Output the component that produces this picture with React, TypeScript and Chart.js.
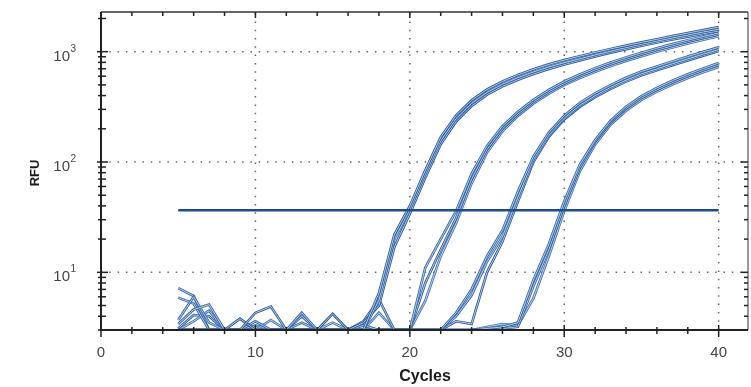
import { useEffect, useRef } from "react";
import { Chart, registerables } from "chart.js";

Chart.register(...registerables);

// ---- data ----
const cycles = [5, 6, 7, 8, 9, 10, 11, 12, 13, 14, 15, 16, 17, 18, 19, 20, 21, 22, 23, 24, 25, 26, 27, 28, 29, 30, 31, 32, 33, 34, 35, 36, 37, 38, 39, 40];

const a1 = [3, 3, 3, 3, 3, 4.3, 4.9, 3, 3, 3, 3, 3, 3, 6.5, 22, 40, 84, 168, 265, 362, 455, 538, 615, 692, 768, 840, 910, 985, 1060, 1135, 1215, 1295, 1385, 1475, 1570, 1670];
const a2 = [3.4, 4.6, 5.1, 3, 3, 3, 3, 3, 4.3, 3, 3, 3, 3, 5.6, 20, 37, 78, 156, 248, 340, 428, 508, 582, 655, 727, 795, 862, 935, 1010, 1090, 1170, 1250, 1330, 1420, 1510, 1600];
const a3 = [3, 3, 3, 3, 3.8, 3, 3, 3, 3, 3, 4.2, 3, 3.5, 5, 17, 34, 72, 145, 233, 322, 408, 485, 557, 628, 698, 765, 833, 905, 980, 1055, 1130, 1210, 1290, 1370, 1455, 1540];

const b1 = [3.7, 6.0, 3.5, 3, 3, 3.6, 3, 3, 4.0, 3, 3, 3, 3.3, 3, 3, 3, 11, 20, 36, 78, 140, 212, 286, 366, 450, 537, 622, 710, 798, 888, 980, 1075, 1172, 1272, 1375, 1480];
const b2 = [3, 3, 3, 3, 3, 3, 3, 3, 3, 3, 3, 3, 3.6, 5.7, 3, 3, 8, 16, 31, 70, 130, 200, 272, 350, 432, 515, 598, 682, 768, 855, 943, 1035, 1130, 1230, 1330, 1430];
const b3 = [3, 3, 3, 3, 3, 3, 3.7, 3, 3, 3, 3.5, 3, 3, 4.3, 3, 3, 5.5, 14, 28, 64, 122, 190, 262, 338, 417, 497, 577, 658, 741, 825, 910, 998, 1090, 1185, 1283, 1380];

const c1 = [5.9, 5.2, 3, 3, 3, 3, 3, 3, 3.5, 3, 3, 3, 3, 3, 3, 3, 3, 3, 4.3, 7, 14, 24, 54, 112, 185, 263, 343, 420, 498, 580, 662, 735, 817, 903, 997, 1095];
const c2 = [3, 3.6, 4.5, 3, 3, 3.3, 3, 3, 3, 3, 3, 3, 3, 3, 3, 3, 3, 3, 4.0, 6.2, 12.5, 21, 48, 105, 175, 250, 326, 400, 475, 552, 630, 700, 778, 860, 950, 1045];
const c3 = [3, 3, 3, 3, 3, 3, 3, 3, 3, 3, 3, 3, 3, 3, 3, 3, 3, 3, 3.6, 3.4, 10, 19, 44, 100, 169, 243, 316, 388, 461, 535, 611, 679, 755, 834, 921, 1015];

const d1 = [7.2, 6.1, 3, 3, 3, 3, 3, 3, 3, 3, 3, 3, 3, 3, 3, 3, 3, 3, 3, 3, 3.1, 3.2, 3.5, 8.5, 18, 44, 94, 158, 237, 317, 395, 470, 546, 624, 705, 790];
const d2 = [3.1, 4.1, 4.0, 3, 3, 3, 3, 3, 3, 3, 3, 3, 3, 3, 3, 3, 3, 3, 3, 3, 3, 3.1, 3.2, 7.5, 16, 40, 88, 152, 228, 305, 380, 452, 525, 600, 678, 758];
const d3 = [3, 3, 3, 3, 3, 3, 3, 3, 3, 3, 3, 3, 3, 3, 3, 3, 3, 3, 3, 3, 3.2, 3.4, 3.3, 5.8, 14, 36, 82, 144, 218, 292, 365, 434, 504, 576, 651, 728];

const thresholdCycles = [5, 40];
const thresholdValue = 36.5;

const xTickValues = [0, 10, 20, 30, 40];
const xTickLabels = ["0", "10", "20", "30", "40"];
const yTickValues = [10, 100, 1000];
const yTickBase = ["10", "10", "10"];
const yTickExp = ["1", "2", "3"];

const xTitle = "Cycles";
const yTitle = "RFU";

const series = [a1, a2, a3, b1, b2, b3, c1, c2, c3, d1, d2, d3];
const seriesColors = [
  "#2c5c9b", "#3a6aab", "#25559a",
  "#3566a7", "#2a5a98", "#4373b2",
  "#3064a4", "#3d6dad", "#2b5b9b",
  "#3567a7", "#2d5d9d", "#4272b0",
];
const innerColor = "rgba(214,228,244,0.9)";

const FONT = "'Liberation Sans', Arial, Helvetica, sans-serif";

const axesPlugin = {
  id: "qpcrAxes",
  beforeDatasetsDraw(chart: any) {
    const { ctx, chartArea: a, scales } = chart;
    const x = scales.x;
    const y = scales.y;
    ctx.save();
    ctx.strokeStyle = "#666";
    ctx.lineWidth = 1.5;
    ctx.lineCap = "butt";
    ctx.setLineDash([1.5, 6.8]);
    for (const v of xTickValues) {
      if (v === 0) continue;
      const px = x.getPixelForValue(v);
      ctx.beginPath();
      ctx.moveTo(px, a.bottom);
      ctx.lineTo(px, a.top);
      ctx.stroke();
    }
    for (const v of yTickValues) {
      const py = y.getPixelForValue(v);
      ctx.beginPath();
      ctx.moveTo(a.left, py);
      ctx.lineTo(a.right, py);
      ctx.stroke();
    }
    ctx.restore();
  },
  afterDatasetsDraw(chart: any) {
    const { ctx, chartArea: a, scales } = chart;
    const x = scales.x;
    const y = scales.y;
    ctx.save();
    ctx.setLineDash([]);
    // frame
    ctx.strokeStyle = "#555";
    ctx.lineWidth = 1.2;
    ctx.beginPath();
    ctx.moveTo(a.right, a.top);
    ctx.lineTo(a.right, a.bottom);
    ctx.stroke();
    ctx.strokeStyle = "#333";
    ctx.lineWidth = 1.5;
    ctx.beginPath();
    ctx.moveTo(a.left, a.top);
    ctx.lineTo(a.right, a.top);
    ctx.stroke();
    ctx.strokeStyle = "#222";
    ctx.lineWidth = 2;
    ctx.beginPath();
    ctx.moveTo(a.left, a.top);
    ctx.lineTo(a.left, a.bottom);
    ctx.lineTo(a.right, a.bottom);
    ctx.stroke();

    // x ticks (every 2 cycles)
    ctx.strokeStyle = "#222";
    ctx.lineWidth = 1.5;
    for (let c = 0; c <= x.max; c += 2) {
      const px = x.getPixelForValue(c);
      const major = c % 10 === 0;
      ctx.beginPath();
      ctx.moveTo(px, a.bottom - (major ? 5 : 3));
      ctx.lineTo(px, a.bottom + (major ? 7 : 4));
      ctx.stroke();
      ctx.beginPath();
      ctx.moveTo(px, a.top);
      ctx.lineTo(px, a.top + (major ? 6 : 4));
      ctx.stroke();
    }
    // y ticks (log minor)
    for (let e = 0; e <= 3; e++) {
      for (let m = 1; m <= 9; m++) {
        const v = m * Math.pow(10, e);
        if (v < y.min || v > y.max) continue;
        const py = y.getPixelForValue(v);
        const major = m === 1;
        ctx.beginPath();
        ctx.moveTo(a.left - (major ? 4 : 3), py);
        ctx.lineTo(a.left + (major ? 7 : 5), py);
        ctx.stroke();
        ctx.beginPath();
        ctx.moveTo(a.right - (major ? 7 : 4), py);
        ctx.lineTo(a.right, py);
        ctx.stroke();
      }
    }

    // x labels
    ctx.fillStyle = "#444";
    ctx.font = `15px ${FONT}`;
    ctx.textAlign = "center";
    ctx.textBaseline = "alphabetic";
    xTickValues.forEach((v, i) => {
      ctx.fillText(xTickLabels[i], x.getPixelForValue(v), a.bottom + 27);
    });
    // y labels with superscripts
    yTickValues.forEach((v, i) => {
      const py = y.getPixelForValue(v);
      ctx.font = `15px ${FONT}`;
      ctx.textAlign = "right";
      ctx.fillText(yTickBase[i], 70, py + 9);
      ctx.font = `10px ${FONT}`;
      ctx.textAlign = "left";
      ctx.fillText(yTickExp[i], 70.5, py);
    });

    // titles
    ctx.fillStyle = "#1a1a1a";
    ctx.font = `bold 16px ${FONT}`;
    ctx.textAlign = "center";
    ctx.fillText(xTitle, 425, 381);
    ctx.save();
    ctx.translate(39, 173);
    ctx.rotate(-Math.PI / 2);
    ctx.font = `bold 13px ${FONT}`;
    ctx.textAlign = "center";
    ctx.textBaseline = "alphabetic";
    ctx.fillText(yTitle, 0, 0);
    ctx.restore();
    ctx.restore();
  },
};

export default function App() {
  const ref = useRef<HTMLCanvasElement>(null);
  useEffect(() => {
    if (!ref.current) return;
    const datasets: any[] = [
      {
        label: "Threshold",
        data: thresholdCycles.map((c) => ({ x: c, y: thresholdValue })),
        borderColor: "#1b4c8c",
        borderWidth: 2.6,
        pointRadius: 0,
        fill: false,
      },
    ];
    series.forEach((vals, si) => {
      const pts = cycles.map((c, i) => ({ x: c, y: vals[i] }));
      datasets.push({
        label: `S${si + 1} core`,
        data: pts,
        borderColor: innerColor,
        borderWidth: 0.9,
        pointRadius: 0,
        tension: 0,
        fill: false,
      });
      datasets.push({
        label: `S${si + 1}`,
        data: pts,
        borderColor: seriesColors[si],
        borderWidth: 2.6,
        pointRadius: 0,
        tension: 0,
        fill: false,
      });
    });
    const chart = new Chart(ref.current, {
      type: "line",
      data: { datasets },
      options: {
        animation: false,
        responsive: false,
        maintainAspectRatio: false,
        devicePixelRatio: 1,
        layout: { padding: { left: 101, right: 3, top: 12, bottom: 57 } },
        plugins: { legend: { display: false }, tooltip: { enabled: false }, title: { display: false } },
        scales: {
          x: { type: "linear", min: 0, max: 41.9, display: false },
          y: { type: "logarithmic", min: 3, max: 2290, display: false },
        },
      },
      plugins: [axesPlugin],
    });
    return () => chart.destroy();
  }, []);
  return (
    <div style={{ position: "absolute", left: 0, top: 0, width: 751, height: 387, background: "#fff" }}>
      <canvas ref={ref} width={751} height={387} style={{ display: "block", width: 751, height: 387 }} />
    </div>
  );
}
